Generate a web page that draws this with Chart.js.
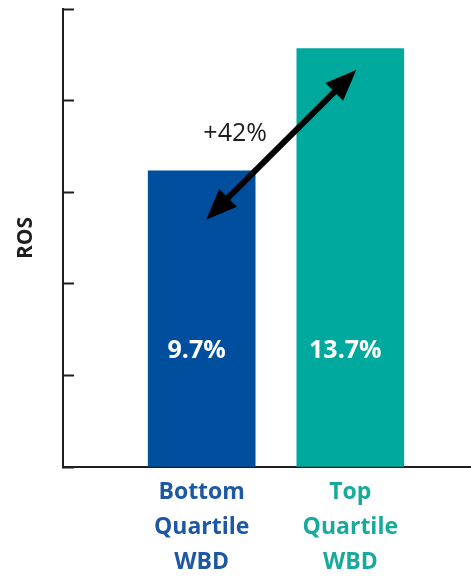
<!DOCTYPE html>
<html>
<head>
<meta charset="utf-8">
<script src="https://cdn.jsdelivr.net/npm/chart.js@4.4.1/dist/chart.umd.min.js"></script>
<style>
  html, body { margin: 0; padding: 0; background: #fff; }
  #wrap { width: 471px; height: 577px; }
</style>
</head>
<body>
<div id="wrap"><canvas id="ros"></canvas></div>
<script>
"use strict";

// Return on sales by WBD quartile
var categories = [ [ "Bottom", "Quartile", "WBD" ], [ "Top", "Quartile", "WBD" ] ],
	rosValues = [ 9.7, 13.7 ],
	yTicks = [ 0, 3, 6, 9, 12, 15 ],
	uplift = "+42%";

var barColors = [ "#004f9e", "#00a99d" ],
	labelColors = [ "#1d58a4", "#17a99b" ],
	ink = "#1e1e1e",
	fontFamily = "'Open Sans', 'Noto Sans', sans-serif";

// Value labels inside the bars, and the double arrow between them
var annotate = {
	id: "annotate",
	afterDatasetsDraw: function( chart ) {
		var ctx = chart.ctx,
			xs = chart.scales.x,
			ys = chart.scales.y,
			bars = chart.getDatasetMeta( 0 ).data;

		ctx.save();
		ctx.fillStyle = "#fff";
		ctx.font = "bold 25px " + fontFamily;
		ctx.textAlign = "center";
		ctx.textBaseline = "middle";
		bars.forEach( function( bar, i ) {
			ctx.fillText( rosValues[ i ].toFixed( 1 ) + "%", bar.x - 5, ys.getPixelForValue( 3.8 ) );
		} );

		// arrow runs from inside the low bar up into the high bar
		var x1 = xs.getPixelForValue( 0.03 ), y1 = ys.getPixelForValue( 8.1 ),
			x2 = xs.getPixelForValue( 1.04 ), y2 = ys.getPixelForValue( 13.0 ),
			ang = Math.atan2( y2 - y1, x2 - x1 ),
			head = 31, half = 12.5;

		ctx.strokeStyle = "#000";
		ctx.fillStyle = "#000";
		ctx.lineWidth = 6;
		ctx.beginPath();
		ctx.moveTo( x1 + Math.cos( ang ) * head * 0.8, y1 + Math.sin( ang ) * head * 0.8 );
		ctx.lineTo( x2 - Math.cos( ang ) * head * 0.8, y2 - Math.sin( ang ) * head * 0.8 );
		ctx.stroke();

		[ [ x1, y1, ang ], [ x2, y2, ang + Math.PI ] ].forEach( function( p ) {
			var bx = p[ 0 ] + Math.cos( p[ 2 ] ) * head,
				by = p[ 1 ] + Math.sin( p[ 2 ] ) * head,
				nx = -Math.sin( p[ 2 ] ) * half,
				ny = Math.cos( p[ 2 ] ) * half;
			ctx.beginPath();
			ctx.moveTo( p[ 0 ], p[ 1 ] );
			ctx.lineTo( bx + nx, by + ny );
			ctx.lineTo( bx - nx, by - ny );
			ctx.closePath();
			ctx.fill();
		} );

		ctx.fillStyle = ink;
		ctx.font = "500 25px " + fontFamily;
		ctx.fillText( uplift, xs.getPixelForValue( 0.225 ), ys.getPixelForValue( 10.9 ) );
		ctx.restore();
	}
};

new Chart( document.getElementById( "ros" ), {
	type: "bar",
	data: {
		datasets: [ {
			data: rosValues.map( function( v, i ) { return { x: i, y: v }; } ),
			backgroundColor: barColors,
			borderWidth: 0,
			barThickness: 107
		} ]
	},
	options: {
		responsive: true,
		maintainAspectRatio: false,
		animation: false,
		events: [],
		layout: { padding: { top: 9, right: 0, left: 0, bottom: 0 } },
		plugins: { legend: { display: false }, tooltip: { enabled: false } },
		scales: {
			x: {
				type: "linear",
				offset: false,
				min: -0.933,
				max: 1.812,
				afterBuildTicks: function( scale ) {
					scale.ticks = categories.map( function( c, i ) { return { value: i }; } );
				},
				afterFit: function( scale ) { scale.height = 110; },
				grid: { drawOnChartArea: false, drawTicks: false },
				border: { color: ink, width: 2 },
				ticks: {
					autoSkip: false,
					maxRotation: 0,
					padding: 8,
					color: function( c ) { return labelColors[ c.index ]; },
					font: { family: fontFamily, size: 23, weight: "bold", lineHeight: 1.52 },
					callback: function( value ) { return categories[ value ]; }
				}
			},
			y: {
				min: yTicks[ 0 ],
				max: yTicks[ yTicks.length - 1 ],
				afterBuildTicks: function( scale ) {
					scale.ticks = yTicks.map( function( v ) { return { value: v }; } );
				},
				afterFit: function( scale ) { scale.width = 63; },
				grid: { drawOnChartArea: false, drawTicks: true, tickLength: -11, tickWidth: 2, tickColor: ink },
				border: { color: ink, width: 2 },
				ticks: { display: false },
				title: {
					display: true,
					text: "ROS",
					color: ink,
					font: { family: fontFamily, size: 21, weight: "bold" },
					padding: { top: 13, bottom: 0 }
				}
			}
		}
	},
	plugins: [ annotate ]
} );
</script>
</body>
</html>
